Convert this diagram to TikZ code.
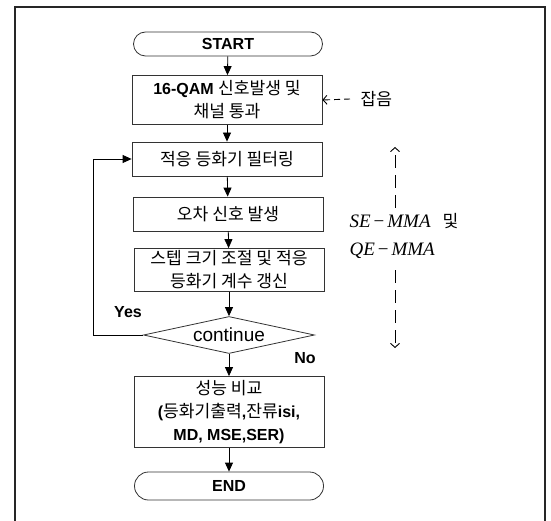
\documentclass[tikz,border=0pt]{standalone}
\usepackage{fontspec}
\setmainfont{Liberation Sans}
\newfontfamily\kr[Scale=1.07]{Noto Sans CJK KR}
\newfontfamily\tms{Liberation Serif}
\usetikzlibrary{shapes.geometric,shapes.misc,arrows.meta}

\begin{document}
\begin{tikzpicture}[x=1pt,y=-1pt,
    termnode/.style={draw=black!80, line width=0.8pt, rounded rectangle, minimum width=189pt, minimum height=24pt, inner sep=0pt, font=\fontsize{16}{19}\selectfont\bfseries},
    procnode/.style={draw=black!80, line width=0.8pt, minimum width=190pt, inner sep=0pt, align=center, font=\fontsize{16}{23}\selectfont},
    decnode/.style={draw=black!80, line width=0.8pt, diamond, aspect=4.6, minimum width=171pt, minimum height=37pt, inner sep=0pt, font=\fontsize{19}{22}\selectfont},
    lbl/.style={font=\fontsize{16}{19}\selectfont\bfseries},
    arr/.style={-{Triangle[length=9pt,width=8pt]}, draw=black, line width=0.8pt},
    dasharr/.style={-{Straight Barb[length=4pt,width=9pt]}, draw=black, line width=0.9pt, dash pattern=on 6pt off 4pt}
  ]
    \useasboundingbox[fill=white] (0,0) rectangle (551,521);
    \draw[line width=1.5pt, black!85] (15,521) -- (15,7) -- (545,7) -- (545,521);

    \node[termnode] (start) at (228,44) {START};
    \node[procnode, minimum height=49pt] (gen) at (227,100) {{\bfseries 16-QAM} {\kr 신호발생 및}\\{\kr 채널 통과}};
    \node[procnode, minimum height=34pt] (filt) at (227,159) {{\kr 적응 등화기 필터링}};
    \node[procnode, minimum height=34pt] (err) at (228,214) {{\kr 오차 신호 발생}};
    \node[procnode, minimum height=43pt] (upd) at (229,270) {{\kr 스텝 크기 조절 및 적응}\\{\kr 등화기 계수 갱신}};
    \node[decnode] (cont) at (229,335) {continue};
    \node[procnode, minimum height=71pt] (cmp) at (229,412) {{\kr 성능 비교}\\{\bfseries(}{\kr 등화기출력}{\bfseries,}{\kr 잔류}{\bfseries isi,}\\{\bfseries MD, MSE,SER)}};
    \node[termnode, minimum height=28pt] (stop) at (229,486) {END};

    \node[lbl] (yes) at (128,312) {Yes};
    \node[lbl] (no) at (305,358) {No};

    % noise input
    \node[font=\fontsize{16}{19}\selectfont\kr, anchor=west] (noise) at (357,99) {잡음};
    \draw[dasharr] (noise.west) ++(-7,0) -- (gen.east);

    % algorithm span
    \node[anchor=west, align=left, font=\fontsize{19}{28}\selectfont] (algo) at (346,236) {{\tms\itshape SE\hspace{3pt}\textup{−}\hspace{3pt}MMA}\hspace{12pt}{\kr\fontsize{16}{19}\selectfont 및}\\{\tms\itshape QE\hspace{3pt}\textup{−}\hspace{3pt}MMA}};
    \coordinate (uptop) at (395,147);
    \coordinate (upbot) at (395,208);
    \coordinate (dntop) at (395,270);
    \coordinate (dnbot) at (395,348);
    \draw[dasharr, dash pattern=on 13pt off 7pt] (upbot) -- (uptop);
    \draw[dasharr, dash pattern=on 13pt off 7pt] (dntop) -- (dnbot);

    \draw[arr] (start) -- (gen);
    \draw[arr] (gen) -- (filt);
    \draw[arr] (filt) -- (err);
    \draw[arr] (err) -- (upd);
    \draw[arr] (upd) -- (cont);
    \draw[arr] (cont) -- (cmp);
    \draw[arr] (cmp) -- (stop);

    \coordinate (loop) at (93,335);
    \draw[arr] (cont.west) -- (loop) |- (filt.west);
\end{tikzpicture}
\end{document}
